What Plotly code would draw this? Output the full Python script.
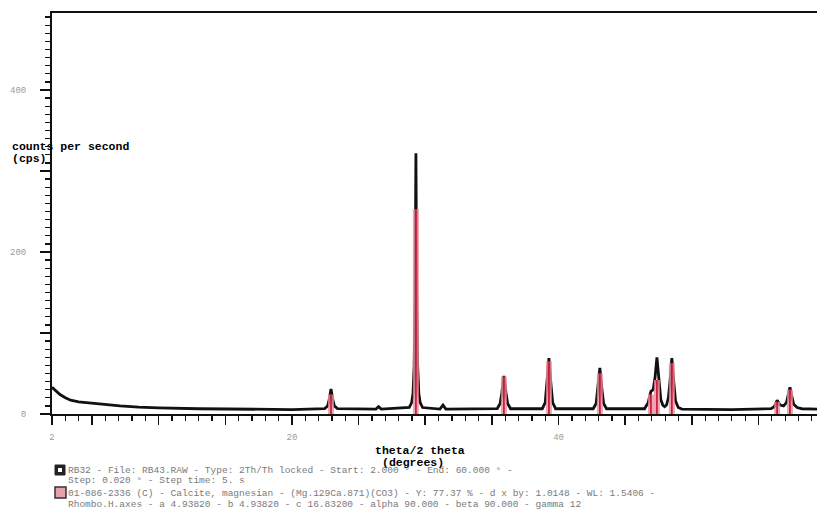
import plotly.graph_objects as go

# ---- data ----
two_theta = [2.0, 2.3, 2.6, 3.0, 3.4, 4.0, 4.8, 6.0, 7.1, 8.5, 10.0, 13.0, 17.0, 20.0,
             22.45, 22.68, 22.8, 22.93, 23.06, 23.18, 23.42,
             26.3, 26.5, 26.7,
             28.8, 28.98, 29.08, 29.17, 29.24, 29.30, 29.36, 29.43, 29.52, 29.62, 29.8,
             31.1, 31.33, 31.55,
             35.4, 35.62, 35.75, 35.9, 36.05, 36.18, 36.4,
             38.78, 39.0, 39.13, 39.28, 39.43, 39.56, 39.78,
             42.6, 42.82, 42.95, 43.1, 43.25, 43.38, 43.6,
             46.45, 46.72, 46.93, 47.1, 47.24, 47.38, 47.52, 47.67, 47.82, 47.96,
             48.1, 48.24, 48.36, 48.5, 48.64, 48.78, 48.98, 49.25,
             53.0, 55.95, 56.18, 56.4, 56.62, 56.88, 57.1, 57.24, 57.36, 57.5, 57.64,
             57.9, 58.25, 59.4]
cps = [33, 28, 24, 20, 17, 15, 13.5, 11.5, 10, 8.5, 7.5, 6.5, 6, 5.5,
       6.5, 10, 18, 31, 18, 10, 6.5,
       6, 9, 6,
       8, 14, 25, 60, 150, 322, 150, 60, 25, 14, 8,
       6, 11, 6,
       6.5, 13, 27, 47, 27, 13, 6.5,
       6.5, 14, 37, 69, 37, 14, 6.5,
       6.5, 13, 31, 57, 31, 13, 6.5,
       6.5, 14, 28, 30, 45, 70, 42, 18, 11, 9,
       11, 20, 40, 69, 40, 16, 8, 6,
       5.5, 6.5, 9, 17, 11, 10, 14, 24, 33, 22, 12,
       8, 6.5, 6]

# reference pattern sticks (Calcite, magnesian)
stick_pos = [22.93, 29.30, 35.9, 39.28, 43.1, 46.93, 47.38, 48.5, 56.4, 57.36]
stick_cps = [24, 253, 46, 65, 50, 24, 42, 63, 15, 30]

x_tickvals = [2, 5, 10, 15, 20, 25, 30, 35, 40, 45, 50, 55]
x_ticktext = ["2", "", "", "", "20", "", "", "", "40", "", "", ""]
y_tickvals = [0, 100, 200, 300, 400]
y_ticktext = ["0", "", "200", "", "400"]

header_lines = [
    "RB32 - File: RB43.RAW - Type: 2Th/Th locked - Start: 2.000 \u00b0 - End: 60.000 \u00b0 -",
    "Step: 0.020 \u00b0 - Step time: 5. s",
    "01-086-2336 (C) - Calcite, magnesian - (Mg.129Ca.871)(CO3) - Y: 77.37 % - d x by: 1.0148 - WL: 1.5406 -",
    "Rhombo.H.axes - a 4.93820 - b 4.93820 - c 16.83200 - alpha 90.000 - beta 90.000 - gamma 12",
]

# ---- layout geometry (pixels) ----
W, H = 817, 512
L, R, T, B = 52, 0, 13, 98
PW, PH = W - L - R, H - T - B


def px(X):
    return (X - L) / PW


def py(Y):
    return (H - B - Y) / PH


fig = go.Figure()
fig.add_trace(go.Scatter(x=two_theta, y=cps, mode="lines",
                         line=dict(color="#111111", width=2.8), hoverinfo="skip"))

sx, sy = [], []
for c, h in zip(stick_pos, stick_cps):
    sx += [c, c, None]
    sy += [0, h, None]
fig.add_trace(go.Scatter(x=sx, y=sy, mode="lines",
                         line=dict(color="rgba(236,140,158,0.8)", width=6), hoverinfo="skip"))
fig.add_trace(go.Scatter(x=sx, y=sy, mode="lines",
                         line=dict(color="#c8102e", width=1.6), hoverinfo="skip"))

mono = "Liberation Mono, Courier New, monospace"
tickfont = dict(family=mono, size=9, color="#9a9a9a")

fig.update_layout(
    width=W, height=H,
    margin=dict(l=L, r=R, t=T, b=B, pad=0),
    paper_bgcolor="white", plot_bgcolor="white",
    showlegend=False,
    hovermode=False,
    xaxis=dict(range=[2, 2 + PW / 13.33], showgrid=False, zeroline=False,
               showline=True, linecolor="#111", linewidth=2, mirror=True,
               ticks="outside", ticklen=9, tickwidth=1.5, tickcolor="#111",
               tickmode="array", tickvals=x_tickvals, ticktext=x_ticktext,
               tickfont=tickfont, ticklabelstandoff=4, automargin=False,
               minor=dict(ticks="outside", dtick=1, tick0=0, ticklen=5,
                          tickwidth=1.3, tickcolor="#111", showgrid=False)),
    yaxis=dict(range=[0, 495], showgrid=False, zeroline=False,
               showline=True, linecolor="#111", linewidth=2,
               ticks="outside", ticklen=10, tickwidth=1.5, tickcolor="#111",
               tickmode="array", tickvals=y_tickvals, ticktext=y_ticktext,
               tickfont=tickfont, ticklabelstandoff=12, automargin=False,
               minor=dict(ticks="outside", dtick=10, tick0=0, ticklen=5,
                          tickwidth=1.3, tickcolor="#111", showgrid=False)),
)

bold = dict(family=mono, size=11.5, color="#000")
ann = []
ann.append(dict(text="<b>counts per second</b>", x=px(10), y=py(147), xanchor="left", yanchor="middle", font=bold))
ann.append(dict(text="<b>(cps)</b>", x=px(10), y=py(158), xanchor="left", yanchor="middle", font=bold))
ann.append(dict(text="<b>theta/2 theta</b>", x=px(373), y=py(451), xanchor="left", yanchor="middle", font=bold))
ann.append(dict(text="<b>(degrees)</b>", x=px(380), y=py(462), xanchor="left", yanchor="middle", font=bold))
for i, (line, Y) in enumerate(zip(header_lines, [470, 481, 493, 504])):
    ann.append(dict(text=line, x=px(66), y=py(Y), xanchor="left", yanchor="middle",
                    font=dict(family=mono, size=9.5, color="#7a7a7a")))
for a in ann:
    a.update(xref="paper", yref="paper", showarrow=False)
fig.update_layout(annotations=ann)

fig.update_layout(shapes=[
    dict(type="rect", xref="paper", yref="paper", x0=px(55), x1=px(65), y0=py(475), y1=py(465),
         fillcolor="#222", line=dict(color="#222", width=1)),
    dict(type="rect", xref="paper", yref="paper", x0=px(58), x1=px(62), y0=py(472), y1=py(468),
         fillcolor="white", line=dict(width=0)),
    dict(type="rect", xref="paper", yref="paper", x0=px(55), x1=px(66), y0=py(498), y1=py(487),
         fillcolor="#e9a0ae", line=dict(color="#333", width=1.5)),
])

fig.write_html("out.html",
               config={"displayModeBar": False, "staticPlot": True},
               post_script="document.body.style.margin='0';document.body.style.overflow='hidden';")
